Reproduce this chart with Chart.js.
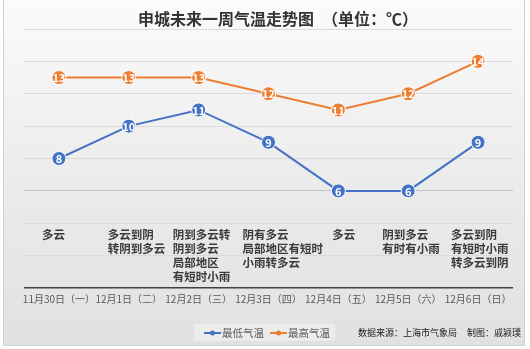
<!DOCTYPE html>
<html>
<head>
<meta charset="utf-8">
<script src="https://cdn.jsdelivr.net/npm/chart.js@4/dist/chart.umd.min.js"></script>
<style>
    html, body { margin: 0; padding: 0; background: #fff; }
    #wrap { width: 530px; height: 349px; }
</style>
</head>
<body>
<div id="wrap"><canvas id="tempChart" width="530" height="349"></canvas></div>
<script>
// data
const dates = ['11月30日（一）', '12月1日（二）', '12月2日（三）', '12月3日（四）', '12月4日（五）', '12月5日（六）', '12月6日（日）'];
const lowTemps = [8, 10, 11, 9, 6, 6, 9];
const highTemps = [13, 13, 13, 12, 11, 12, 14];
const weather = [
    ['多云'],
    ['多云到阴', '转阴到多云'],
    ['阴到多云转', '阴到多云', '局部地区', '有短时小雨'],
    ['阴有多云', '局部地区有短时', '小雨转多云'],
    ['多云'],
    ['阴到多云', '有时有小雨'],
    ['多云到阴', '有短时小雨', '转多云到阴']
];
const seriesNames = ['最低气温', '最高气温'];
const seriesColors = ['#4472C4', '#ED7D31'];

const FONT = '"Noto Sans CJK SC", "Noto Sans", sans-serif';

// x offset of each weather block relative to its category centre
const weatherOffsets = [-17, -21, -26, -26, -6, -26, -27];

const decorPlugin = {
    id: 'decor',
    beforeDraw(chart) {
        const ctx = chart.ctx;
        ctx.save();
        const grad = ctx.createLinearGradient(0, 0, 0, 345);
        grad.addColorStop(0, '#fbfbfb');
        grad.addColorStop(0.5, '#ececec');
        grad.addColorStop(1, '#e1e1e1');
        ctx.fillStyle = grad;
        ctx.fillRect(3, 0, 521, 345);
        ctx.strokeStyle = '#d0d0d0';
        ctx.lineWidth = 1;
        ctx.beginPath();
        ctx.moveTo(3.5, 0);
        ctx.lineTo(3.5, 345.5);
        ctx.lineTo(524.5, 345.5);
        ctx.lineTo(524.5, 0);
        ctx.stroke();
        ctx.restore();
    },
    afterDatasetsDraw(chart) {
        const ctx = chart.ctx;
        ctx.save();
        ctx.fillStyle = '#fff';
        ctx.font = 'bold 11px ' + FONT;
        ctx.textAlign = 'center';
        ctx.textBaseline = 'middle';
        chart.data.datasets.forEach((ds, i) => {
            chart.getDatasetMeta(i).data.forEach((pt, j) => {
                ctx.fillText(String(ds.data[j]), pt.x, pt.y + 0.5);
            });
        });
        ctx.restore();
    },
    afterDraw(chart) {
        const ctx = chart.ctx;
        const xScale = chart.scales.x;
        ctx.save();

        // title
        ctx.fillStyle = '#333';
        ctx.font = 'bold 16px ' + FONT;
        ctx.textAlign = 'center';
        ctx.textBaseline = 'middle';
        ctx.fillText('申城未来一周气温走势图　（单位：℃）', 278, 19);

        // weather description under each day
        ctx.fillStyle = '#3a3a3a';
        ctx.font = 'bold 11.5px ' + FONT;
        ctx.textAlign = 'left';
        weather.forEach((lines, i) => {
            const x = xScale.getPixelForValue(i) + weatherOffsets[i];
            lines.forEach((line, k) => {
                ctx.fillText(line, x, 235 + k * 14);
            });
        });

        // legend
        ctx.fillStyle = 'rgba(255,255,255,0.35)';
        ctx.fillRect(194, 324, 141, 17);
        ctx.font = '10.5px ' + FONT;
        ctx.textBaseline = 'middle';
        let lx = 204;
        seriesNames.forEach((name, i) => {
            ctx.strokeStyle = seriesColors[i];
            ctx.lineWidth = 2;
            ctx.beginPath();
            ctx.moveTo(lx, 333);
            ctx.lineTo(lx + 17, 333);
            ctx.stroke();
            ctx.fillStyle = seriesColors[i];
            ctx.beginPath();
            ctx.arc(lx + 8.5, 333, 2.5, 0, Math.PI * 2);
            ctx.fill();
            ctx.fillStyle = '#595959';
            ctx.fillText(name, lx + 18, 333);
            lx += 66;
        });

        // source note
        ctx.fillStyle = '#1a1a1a';
        ctx.font = '9px ' + FONT;
        ctx.fillText('数据来源：上海市气象局', 358, 333);
        ctx.fillText('制图：戚颍璞', 467, 333);
        ctx.restore();
    }
};

const ctx = document.getElementById('tempChart').getContext('2d');
new Chart(ctx, {
    type: 'line',
    data: {
        labels: dates,
        datasets: [lowTemps, highTemps].map((vals, i) => ({
            label: seriesNames[i],
            data: vals,
            borderColor: seriesColors[i],
            backgroundColor: seriesColors[i],
            borderWidth: 2,
            pointRadius: 7,
            pointBorderColor: '#fff',
            pointBorderWidth: 1,
            pointBackgroundColor: seriesColors[i],
            tension: 0
        }))
    },
    options: {
        responsive: false,
        animation: false,
        layout: { padding: { left: 24, right: 17, top: 29, bottom: 39 } },
        plugins: {
            legend: { display: false },
            tooltip: { enabled: false }
        },
        scales: {
            x: {
                offset: true,
                grid: { display: false, drawTicks: false },
                border: { display: false },
                ticks: {
                    autoSkip: false,
                    maxRotation: 0,
                    padding: 5,
                    color: '#595959',
                    font: { family: FONT, size: 10 }
                }
            },
            y: {
                min: 0,
                max: 16,
                border: { display: false },
                grid: {
                    drawTicks: false,
                    color: c => c.tick.value === 0 ? '#404040' : (c.tick.value === 6 ? '#c4c4c4' : '#dadada'),
                    lineWidth: c => c.tick.value === 0 ? 1.5 : 1
                },
                ticks: { stepSize: 2, display: false }
            }
        }
    },
    plugins: [decorPlugin]
});
</script>
</body>
</html>
